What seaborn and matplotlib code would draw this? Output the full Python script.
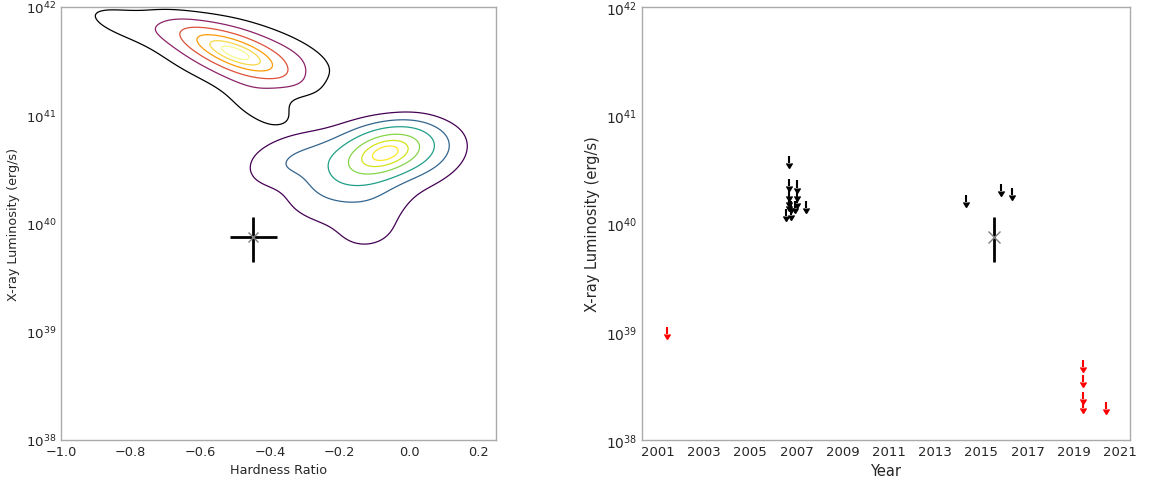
import numpy as np
import pandas as pd
import matplotlib
matplotlib.use("Agg")
import matplotlib.pyplot as plt
import seaborn as sns
from matplotlib.ticker import LogLocator, MultipleLocator, NullFormatter

sns.set_style("white")

# ---- Data -------------------------------------------------------------
# population 1 (soft, bright): hardness ratio, log10 Lx, weight
soft_hr = [-0.50, -0.54, -0.46, -0.58, -0.43,
           -0.62, -0.39, -0.52, -0.48, -0.61, -0.39, -0.45,
           -0.72, -0.80, -0.86, -0.35, -0.33, -0.30, -0.42, -0.38,
           -0.60, -0.55, -0.68, -0.45, -0.38,
           -0.65, -0.75, -0.50, -0.36, -0.45, -0.28, -0.42, -0.88]
soft_logL = [41.58, 41.63, 41.53, 41.68, 41.49,
             41.74, 41.42, 41.47, 41.70, 41.60, 41.58, 41.35,
             41.80, 41.85, 41.86, 41.35, 41.55, 41.45, 41.20, 41.00,
             41.40, 41.80, 41.55, 41.78, 40.75,
             41.82, 41.75, 41.30, 41.70, 41.10, 41.55, 41.00, 41.88]
soft_w = [6, 4, 4, 3, 3,
          2, 2, 2, 2, 1.5, 1.5, 1.2,
          1, 0.8, 0.5, 1, 1, 0.7, 1.0, 0.5,
          0.7, 0.8, 0.6, 0.6, 0.7,
          0.8, 0.6, 0.6, 0.5, 0.7, 0.4, 0.6, 0.5]

# population 2 (hard)
hard_hr = [-0.07, -0.03, -0.11, -0.06, -0.04,
           -0.17, 0.02, -0.12, -0.10, 0.05, -0.22, -0.20, -0.12,
           -0.30, -0.38, -0.40, -0.30, -0.22, -0.15, -0.10, 0.02,
           0.10, 0.13, -0.15, 0.00, -0.30,
           -0.25, -0.05, 0.08, -0.35, -0.20, -0.08,
           -0.10, -0.30, -0.45]
hard_logL = [40.65, 40.69, 40.60, 40.58, 40.75,
             40.55, 40.72, 40.45, 40.78, 40.60, 40.68, 40.40, 40.30,
             40.60, 40.70, 40.45, 40.30, 40.10, 39.95, 40.20, 40.35,
             40.78, 40.62, 40.85, 40.88, 40.82,
             40.45, 40.15, 40.45, 40.55, 40.30, 40.00,
             39.85, 40.15, 40.60]
hard_w = [6, 4, 4, 3, 3,
          2.5, 2, 2, 2, 1.5, 1.5, 1.2, 1.2,
          1.5, 0.6, 0.9, 0.8, 1.0, 1.0, 0.8, 0.6,
          0.8, 0.5, 0.8, 0.8, 0.5,
          0.8, 0.6, 0.6, 1.0, 0.8, 0.4,
          0.9, 0.6, 0.4]

# the source
src_hr = -0.447
src_hr_err = 0.067
src_L = 7.47e39
src_L_lo = 4.39e39
src_L_hi = 1.14e40
src_year = 2015.55

# upper limits vs time
ul_black_year = [2006.66, 2006.66, 2006.66, 2006.66, 2006.66, 2006.54, 2006.74,
                 2006.76, 2007.00, 2007.00, 2007.00, 2006.95, 2007.39,
                 2014.34, 2015.85, 2016.33]
ul_black_L = [4.2e40, 2.6e40, 2.1e40, 1.85e40, 1.7e40, 1.35e40, 1.4e40,
              1.6e40, 2.5e40, 2.1e40, 1.8e40, 1.6e40, 1.6e40,
              1.85e40, 2.3e40, 2.15e40]
ul_red_year = [2001.39, 2019.40, 2019.40, 2019.40, 2019.40, 2020.40]
ul_red_L = [1.1e39, 5.5e38, 4.0e38, 2.8e38, 2.3e38, 2.26e38]

year_ticks = list(range(2001, 2022, 2))

# ---- Figure -----------------------------------------------------------
fig = plt.figure(figsize=(11.54, 4.81), dpi=100)
W, H = 1154, 481
ax1 = fig.add_axes([61 / W, (481 - 441) / H, 435 / W, 433 / H])
ax2 = fig.add_axes([642 / W, (481 - 441) / H, 488 / W, 433 / H])

soft = pd.DataFrame({"hr": soft_hr, "L": 10 ** np.array(soft_logL), "w": soft_w})
hard = pd.DataFrame({"hr": hard_hr, "L": 10 ** np.array(hard_logL), "w": hard_w})

inferno = plt.get_cmap("inferno")
viridis = plt.get_cmap("viridis")
soft_colors = [inferno(v) for v in (0.0, 0.38, 0.6, 0.78, 0.9, 0.98)]
hard_colors = [viridis(v) for v in (0.0, 0.32, 0.56, 0.82, 0.93, 1.0)]
iso_levels = [0.1, 0.3, 0.5, 0.7, 0.85, 0.95]

sns.kdeplot(data=soft, x="hr", y="L", weights="w", log_scale=(False, True),
            colors=soft_colors, levels=iso_levels, bw_adjust=1.0,
            linewidths=0.9, ax=ax1)
sns.kdeplot(data=hard, x="hr", y="L", weights="w", log_scale=(False, True),
            colors=hard_colors, levels=iso_levels, bw_adjust=1.0,
            linewidths=0.9, ax=ax1)

ax1.errorbar([src_hr], [src_L], xerr=[[src_hr_err], [src_hr_err]],
             yerr=[[src_L - src_L_lo], [src_L_hi - src_L]],
             fmt="x", color="k", ecolor="k", elinewidth=2, mfc="gray", mec="gray",
             ms=7)

ax1.set_xlim(-1.0, 0.25)
ax1.set_ylim(1e38, 1e42)
ax1.set_xlabel("Hardness Ratio", fontsize=9.2)
ax1.set_ylabel("X-ray Luminosity (erg/s)", fontsize=9.2)

# right panel
with plt.rc_context({"lines.markersize": 4.5}):
    ax2.errorbar(ul_black_year, ul_black_L, yerr=0.14 * np.array(ul_black_L),
                 uplims=True, fmt="none", color="k", ecolor="k",
                 elinewidth=1.5, capsize=0)
    ax2.errorbar(ul_red_year, ul_red_L, yerr=0.14 * np.array(ul_red_L),
                 uplims=True, fmt="none", color="red", ecolor="red",
                 elinewidth=1.5, capsize=0)
ax2.errorbar([src_year], [src_L], yerr=[[src_L - src_L_lo], [src_L_hi - src_L]],
             fmt="x", color="k", ecolor="k", elinewidth=2, mfc="gray", mec="gray",
             ms=9)
ax2.set_yscale("log")
ax2.set_ylim(1e38, 1e42)
ax2.set_xlim(2000.31, 2021.43)
ax2.set_xticks(year_ticks)
ax2.set_xticklabels([str(y) for y in year_ticks])
ax2.xaxis.set_minor_locator(MultipleLocator(0.2))
ax2.set_xlabel("Year", fontsize=10.5)
ax2.set_ylabel("X-ray Luminosity (erg/s)", fontsize=10.5)

for ax in (ax1, ax2):
    ax.yaxis.set_major_locator(LogLocator(base=10, numticks=10))
    ax.yaxis.set_minor_locator(LogLocator(base=10, subs=np.arange(2, 10), numticks=10))
    ax.yaxis.set_minor_formatter(NullFormatter())
    for s in ax.spines.values():
        s.set_color("#aaaaaa")
        s.set_linewidth(1.0)
    ax.tick_params(which="both", direction="in", color="#999999")
    ax.tick_params(which="major", length=3)
    ax.tick_params(which="minor", length=2)

ax1.tick_params(axis="x", labelsize=9.3)
ax1.tick_params(axis="y", labelsize=9.6)
ax2.tick_params(axis="x", labelsize=9.5)
ax2.tick_params(axis="y", labelsize=9.9)

fig.savefig("out.png", dpi=100)
